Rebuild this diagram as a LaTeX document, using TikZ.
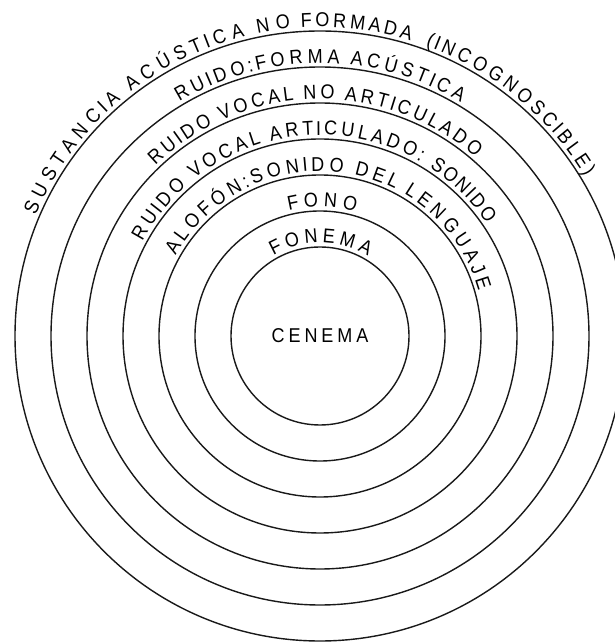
\documentclass[tikz,border=0pt]{standalone}
\usepackage{fontspec}
\setmainfont{Liberation Sans}
\newfontfamily\lblfont{Liberation Sans}
\newfontfamily\cenfont{Liberation Sans}[LetterSpace=22]
\usetikzlibrary{decorations.text}
\tikzset{
  ring/.style={line width=1.4pt, draw=black!90},
  arctext/.style={decorate, decoration={text effects along path, text={#1},
     text effects/.cd, text along path, fit text to path,
     every character/.style={font=\lblfont\fontsize{20}{20}\selectfont, xscale=0.9}}}
}
\begin{document}
\begin{tikzpicture}
\useasboundingbox (0pt,0pt) rectangle (615pt,643pt);
\clip (0pt,0pt) rectangle (615pt,643pt);
\fill[white] (0pt,0pt) rectangle (615pt,643pt);
\coordinate (c) at (320pt,307pt);
\foreach \r in {89,125,161,197,233,269,305}
  \draw[ring] (c) circle[radius=\r pt];
% outer ring label, in three runs as lettered
\path[arctext={SUSTANCIA ACÚSTICA NO}]
  (c) ++(157:309pt) arc[start angle=157, end angle=95.5, radius=309pt];
\path[arctext={FORMADA}]
  (c) ++(93.5:309pt) arc[start angle=93.5, end angle=73, radius=309pt];
\path[arctext={(INCOGNOSCIBLE)}]
  (c) ++(70:309pt) arc[start angle=70, end angle=31, radius=309pt];
\path[arctext={RUIDO:FORMA ACÚSTICA}]
  (c) ++(121:273pt) arc[start angle=121, end angle=59, radius=273pt];
\path[arctext={RUIDO VOCAL NO ARTICULADO}]
  (c) ++(134:237pt) arc[start angle=134, end angle=49, radius=237pt];
\path[arctext={RUIDO VOCAL ARTICULADO:}]
  (c) ++(152:201pt) arc[start angle=152, end angle=60, radius=201pt];
\path[arctext={SONIDO}]
  (c) ++(57:201pt) arc[start angle=57, end angle=34, radius=201pt];
\path[arctext={ALOFÓN:SONIDO DEL LENGUAJE}]
  (c) ++(151:165pt) arc[start angle=151, end angle=16, radius=165pt];
\path[arctext={FONO}]
  (c) ++(104:129pt) arc[start angle=104, end angle=74, radius=129pt];
\path[arctext={FONEMA}]
  (c) ++(120:93pt) arc[start angle=120, end angle=59, radius=93pt];
\node[font=\cenfont\fontsize{20}{20}\selectfont, xscale=0.9] (cen) at (c) {CENEMA};
\end{tikzpicture}
\end{document}
